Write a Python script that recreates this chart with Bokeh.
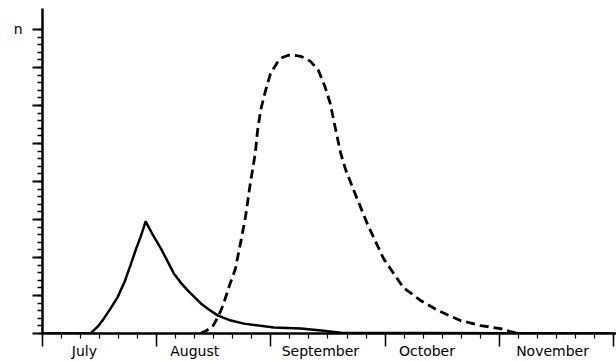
from bokeh.plotting import figure
from bokeh.models import LinearAxis, FixedTicker, CustomLabelingPolicy
from bokeh.embed import file_html
from bokeh.resources import INLINE

# ---- data (x: days from 1 July, each month drawn as 30 days; y: n) ----
months = ["July", "August", "September", "October", "November"]
month_starts = [0, 30, 60, 90, 120, 150]
month_label_days = [11, 40, 73, 101, 134]

solid_x = [0, 12.6, 14.5, 16.1, 17.9, 19.7, 21.6, 23.2, 24.7, 25.8, 27.1,
           28.9, 31.1, 32.9, 34.5, 36.3, 38.2, 40.0, 41.6, 43.7, 46.1, 49.5,
           52.9, 56.8, 60.8, 67.9, 73.2, 78.4, 150]
solid_y = [0, 0, 0.18, 0.39, 0.66, 0.95, 1.37, 1.82, 2.26, 2.55, 2.95,
           2.61, 2.24, 1.89, 1.58, 1.34, 1.13, 0.95, 0.79, 0.63, 0.47, 0.34,
           0.26, 0.21, 0.16, 0.13, 0.08, 0.02, 0]

dashed_x = [41.5, 43.1, 44.7, 46.2, 47.5, 49.1, 50.7, 52.0, 53.3, 54.6, 55.9,
            56.5, 57.3, 58.6, 59.9, 61.7, 63.0, 64.6, 66.2, 67.8, 69.1, 70.4,
            72.5, 74.3, 75.6, 76.9, 78.3, 79.6, 82.2, 85.4, 89.6, 94.8, 99.3,
            103.8, 109.8, 115.1, 120.3, 122.9, 125.0]
dashed_y = [0, 0.08, 0.18, 0.45, 0.76, 1.26, 1.71, 2.37, 3.05, 3.95, 4.74,
            5.34, 5.87, 6.39, 6.84, 7.13, 7.26, 7.32, 7.32, 7.29, 7.24, 7.16,
            6.92, 6.47, 6.05, 5.42, 4.76, 4.32, 3.66, 2.87, 1.97, 1.21, 0.87,
            0.61, 0.34, 0.21, 0.13, 0.05, 0.0]

y_major = [0, 1, 2, 3, 4, 5, 6, 7, 8]
y_minor = [i / 5 for i in range(0, 41)]
x_minor = list(range(0, 151, 5))
y_label_tick = [8]
y_label_text = ["n"]

FONT = "DejaVu Sans"

HIDE_ALL = CustomLabelingPolicy(code="""
try {
  for (const i of Array.from(indices)) indices.unset(i)
} catch (e) {
  for (let i = 0; i < indices.size; i++) indices.unset(i)
}
return indices
""")

p = figure(width=616, height=361, x_range=(0, 150.8), y_range=(0, 8.55),
           output_backend="svg", toolbar_location=None,
           x_axis_type=None, y_axis_type=None,
           min_border_left=42, min_border_right=0, min_border_top=8,
           min_border_bottom=28)
p.outline_line_color = None
p.background_fill_color = "white"
p.border_fill_color = "white"

# y axis: ticks only
yax = LinearAxis(ticker=FixedTicker(ticks=y_major, minor_ticks=y_minor))
yax.major_label_policy = HIDE_ALL
yax.major_label_overrides = {v: "" for v in y_major}
yax.major_label_standoff = 0
yax.axis_line_width = 2.5
yax.axis_line_color = "black"
yax.major_tick_in = 0
yax.major_tick_out = 10
yax.minor_tick_in = 0
yax.minor_tick_out = 5
yax.major_tick_line_width = 1.8
yax.minor_tick_line_width = 1.5
yax.major_tick_line_color = "black"
yax.minor_tick_line_color = "black"
p.add_layout(yax, "left")

# y axis: "n" label
ylab = LinearAxis(ticker=FixedTicker(ticks=y_label_tick, minor_ticks=[]))
ylab.major_label_overrides = {t: s for t, s in zip(y_label_tick, y_label_text)}
ylab.axis_line_color = None
ylab.major_tick_line_color = None
ylab.minor_tick_line_color = None
ylab.major_tick_out = 0
ylab.major_tick_in = 0
ylab.major_label_standoff = 10
ylab.major_label_text_font = FONT
ylab.major_label_text_font_size = "14px"
ylab.major_label_text_color = "black"
p.add_layout(ylab, "left")

# x axis: ticks only
xax = LinearAxis(ticker=FixedTicker(ticks=month_starts, minor_ticks=x_minor))
xax.major_label_policy = HIDE_ALL
xax.major_label_overrides = {v: "" for v in month_starts}
xax.major_label_standoff = 0
xax.axis_line_width = 2.5
xax.axis_line_color = "black"
xax.major_tick_in = 0
xax.major_tick_out = 13
xax.minor_tick_in = 0
xax.minor_tick_out = 5
xax.major_tick_line_width = 1.5
xax.minor_tick_line_width = 1.2
xax.major_tick_line_color = "black"
xax.minor_tick_line_color = "black"
p.add_layout(xax, "below")

# x axis: month labels
lab = LinearAxis(ticker=FixedTicker(ticks=month_label_days, minor_ticks=[]))
lab.major_label_overrides = {d: m for d, m in zip(month_label_days, months)}
lab.axis_line_color = None
lab.major_tick_line_color = None
lab.minor_tick_line_color = None
lab.major_tick_out = 0
lab.major_tick_in = 0
lab.major_label_standoff = -4
lab.major_label_text_font = FONT
lab.major_label_text_font_size = "14px"
lab.major_label_text_color = "black"
p.add_layout(lab, "below")

p.line(solid_x, solid_y, line_color="black", line_width=2.5)
p.line(dashed_x, dashed_y, line_color="black", line_width=2.8, line_dash="9 5")

open("out.html", "w").write(file_html(p, INLINE))
